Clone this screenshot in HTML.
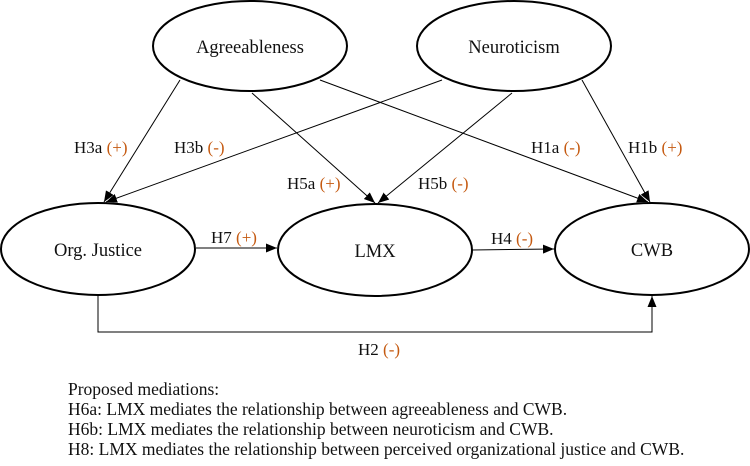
<!DOCTYPE html>
<html><head><style>
body{margin:0;background:#fff;}
svg text{font-family:"Liberation Serif",serif;font-size:17px;fill:#111;}
.o{fill:#c55a11;}
.n{font-size:18.5px;}
.b{font-size:17.5px;}
</style></head><body>
<svg width="750" height="461" xmlns="http://www.w3.org/2000/svg">
<defs><marker id="a" markerWidth="12" markerHeight="12" refX="11" refY="5" orient="auto" markerUnits="userSpaceOnUse"><path d="M0,0.5 L11,5 L0,9.5 z" fill="#000"/></marker></defs>
<g fill="none" stroke="#000" stroke-width="2">
<ellipse cx="250" cy="46" rx="97" ry="45"/>
<ellipse cx="514" cy="46" rx="97" ry="45"/>
<ellipse cx="98" cy="249" rx="97" ry="46"/>
<ellipse cx="375" cy="250" rx="97" ry="46"/>
<ellipse cx="652" cy="249" rx="97" ry="46"/>
</g>
<g stroke="#000" stroke-width="1" fill="none" marker-end="url(#a)">
<line x1="180" y1="80" x2="104" y2="202"/>
<line x1="252" y1="93" x2="375" y2="203"/>
<line x1="320" y1="80" x2="648" y2="202"/>
<line x1="442" y1="80" x2="106" y2="202"/>
<line x1="512" y1="93" x2="378" y2="203"/>
<line x1="582" y1="80" x2="650" y2="202"/>
<line x1="196" y1="248" x2="277" y2="248"/>
<line x1="472" y1="250" x2="554" y2="249"/>
<polyline points="98,295 98,332 652,332 652,296"/>
</g>
<text x="250" y="53" text-anchor="middle" class="n">Agreeableness</text>
<text x="514" y="53" text-anchor="middle" class="n">Neuroticism</text>
<text x="98" y="256" text-anchor="middle" class="n">Org. Justice</text>
<text x="375" y="257" text-anchor="middle" class="n">LMX</text>
<text x="652" y="256" text-anchor="middle" class="n">CWB</text>
<text x="74" y="153">H3a <tspan class="o">(+)</tspan></text>
<text x="174" y="153">H3b <tspan class="o">(-)</tspan></text>
<text x="531" y="153">H1a <tspan class="o">(-)</tspan></text>
<text x="628" y="153">H1b <tspan class="o">(+)</tspan></text>
<text x="287" y="189">H5a <tspan class="o">(+)</tspan></text>
<text x="418" y="189">H5b <tspan class="o">(-)</tspan></text>
<text x="211" y="243">H7 <tspan class="o">(+)</tspan></text>
<text x="491" y="244">H4 <tspan class="o">(-)</tspan></text>
<text x="358" y="355">H2 <tspan class="o">(-)</tspan></text>
<text x="68" y="395" class="b">Proposed mediations:</text>
<text x="68" y="415" class="b">H6a: LMX mediates the relationship between agreeableness and CWB.</text>
<text x="68" y="435" class="b">H6b: LMX mediates the relationship between neuroticism and CWB.</text>
<text x="68" y="455" class="b">H8: LMX mediates the relationship between perceived organizational justice and CWB.</text>
</svg>
</body></html>
